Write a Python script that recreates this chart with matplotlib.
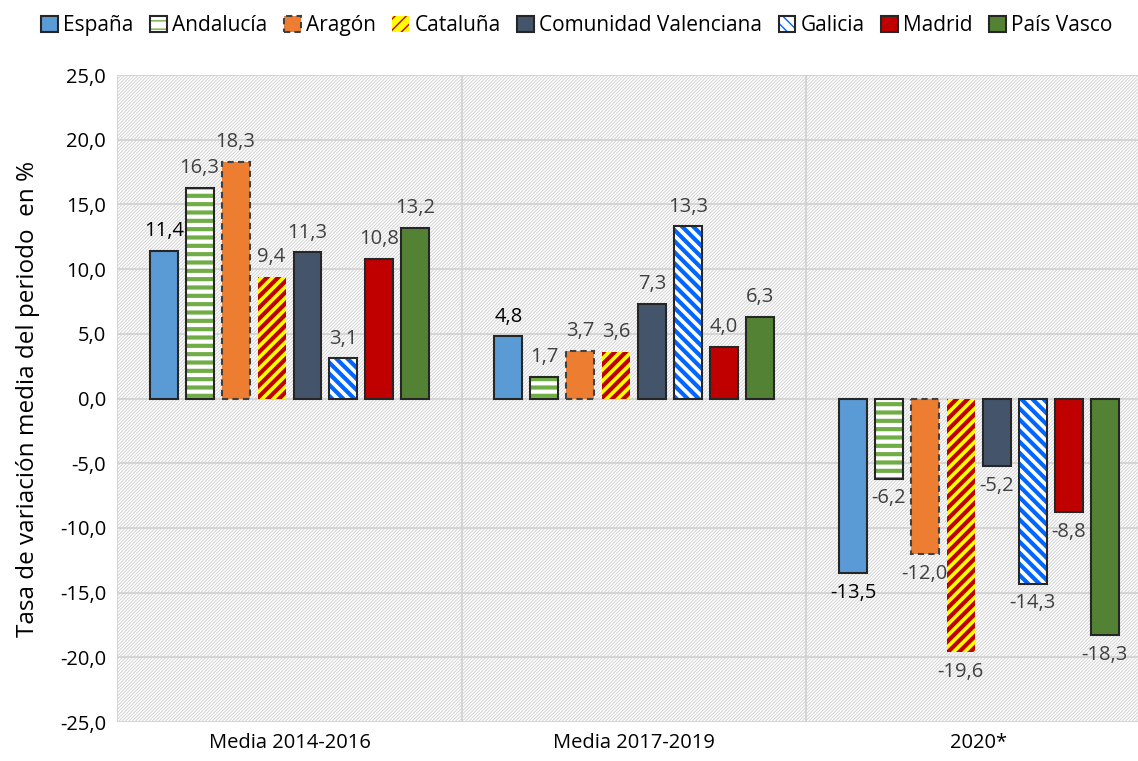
import matplotlib
matplotlib.use("Agg")
import matplotlib.pyplot as plt
from matplotlib.patches import Patch, Rectangle
from matplotlib.legend_handler import HandlerTuple
import numpy as np

plt.rcParams['font.family'] = ['Open Sans', 'DejaVu Sans']

categories = ["Media 2014-2016", "Media 2017-2019", "2020*"]
regions = ["España", "Andalucía", "Aragón", "Cataluña", "Comunidad Valenciana",
           "Galicia", "Madrid", "País Vasco"]
espana = [11.4, 4.8, -13.5]
andalucia = [16.3, 1.7, -6.2]
aragon = [18.3, 3.7, -12.0]
cataluna = [9.4, 3.6, -19.6]
cvalenciana = [11.3, 7.3, -5.2]
galicia = [3.1, 13.3, -14.3]
madrid = [10.8, 4.0, -8.8]
paisvasco = [13.2, 6.3, -18.3]
series = [espana, andalucia, aragon, cataluna, cvalenciana, galicia, madrid, paisvasco]
yticks = np.arange(-25, 26, 5)

styles = [
    dict(face="#5b9bd5", hatch=None, hc=None, edge="#262626", ls="-"),
    dict(face="white", hatch="--", hc="#70ad47", edge="#262626", ls="-"),
    dict(face="#ed7d31", hatch=None, hc=None, edge="#404040", ls=(0, (3, 2))),
    dict(face="#ffff00", hatch="///", hc="#c00000", edge=None, ls="-"),
    dict(face="#44546a", hatch=None, hc=None, edge="#262626", ls="-"),
    dict(face="white", hatch="\\\\\\", hc="#0066ff", edge="#262626", ls="-"),
    dict(face="#c00000", hatch=None, hc=None, edge="#262626", ls="-"),
    dict(face="#548235", hatch=None, hc=None, edge="#262626", ls="-"),
]

fig = plt.figure(figsize=(11.38, 7.61), dpi=100)
ax = fig.add_axes([0.103, 0.0512, 0.897, 0.8502])
ax.set_xlim(-0.5, 2.462)
ax.set_ylim(-25, 25)

bg = Rectangle((0, 0), 1, 1, transform=ax.transAxes, facecolor="white",
               edgecolor="#d4d4d4", hatch="//////////", linewidth=0, zorder=0)
if hasattr(bg, "set_hatch_linewidth"):
    bg.set_hatch_linewidth(0.7)
ax.add_patch(bg)
ax.patch.set_visible(False)

for y in yticks:
    ax.axhline(y, color="#d0d0d0", lw=1.2, zorder=1)
for xb in [-0.5, 0.5, 1.5]:
    ax.axvline(xb, color="#d0d0d0", lw=1.2, zorder=1)

x = np.arange(len(categories))
slot = 0.1043
width = 0.081
for i, (vals, st) in enumerate(zip(series, styles)):
    xp = x + (i - 3.5) * slot
    if st["hatch"]:
        bars = ax.bar(xp, vals, width, facecolor=st["face"], edgecolor=st["hc"],
                      hatch=st["hatch"], linewidth=0, zorder=3)
        for b in bars:
            if hasattr(b, "set_hatch_linewidth"):
                b.set_hatch_linewidth(3.0)
    else:
        ax.bar(xp, vals, width, facecolor=st["face"], linewidth=0, zorder=3)
    if st["edge"]:
        ax.bar(xp, vals, width, facecolor="none", edgecolor=st["edge"],
               linewidth=1.5, linestyle=st["ls"], zorder=4)
    col = "black" if i == 0 else "#404040"
    for xx, v in zip(xp, vals):
        lab = f"{v:.1f}".replace(".", ",")
        if v >= 0:
            ax.annotate(lab, (xx, v), xytext=(0, 7), textcoords="offset points",
                        ha="center", va="bottom", fontsize=14.5, color=col)
        else:
            ax.annotate(lab, (xx, v), xytext=(0, -7), textcoords="offset points",
                        ha="center", va="top", fontsize=14.5, color=col)

ax.set_xticks(x)
ax.set_xticklabels(categories, fontsize=14.5)
ax.set_yticks(yticks)
ax.set_yticklabels([f"{t:.1f}".replace(".", ",") for t in yticks], fontsize=14.5)
ax.tick_params(length=0, pad=8)
ax.tick_params(axis="y", pad=8)
for s in ax.spines.values():
    s.set_visible(False)
ax.set_ylabel("Tasa de variación media del periodo  en %", fontsize=17.5, labelpad=14)

handles = []
for st, name in zip(styles, regions):
    if st["hatch"]:
        h1 = Patch(facecolor=st["face"], edgecolor=st["hc"], hatch=st["hatch"], linewidth=0)
        if st["edge"]:
            h2 = Patch(facecolor="none", edgecolor=st["edge"], linewidth=1.5)
            handles.append((h1, h2))
        else:
            handles.append(h1)
    else:
        handles.append(Patch(facecolor=st["face"], edgecolor=st["edge"],
                             linestyle=st["ls"], linewidth=1.5))
leg = fig.legend(handles, regions, loc="upper center", bbox_to_anchor=(0.507, 1.005),
                 ncol=8, frameon=False, fontsize=15, handlelength=0.8, handleheight=0.8,
                 handletextpad=0.25, columnspacing=0.8,
                 handler_map={tuple: HandlerTuple(ndivide=1, pad=0)})

fig.savefig("out.png", dpi=100)
